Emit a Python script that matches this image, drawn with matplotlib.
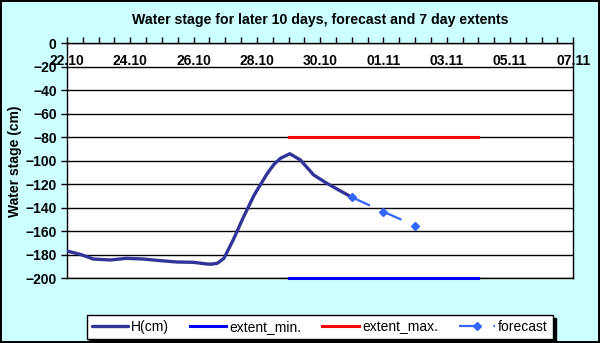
import matplotlib
matplotlib.use("Agg")
from matplotlib import pyplot as plt
import matplotlib.dates as mdates
import pandas as pd

plt.rcParams['font.family'] = ['Liberation Sans', 'DejaVu Sans']

# observed water stage
h_time = ["2011-10-22 00:00", "2011-10-22 10:00", "2011-10-22 20:00", "2011-10-23 09:00",
          "2011-10-23 21:00", "2011-10-24 10:00", "2011-10-24 23:00", "2011-10-25 11:00",
          "2011-10-26 00:00", "2011-10-26 10:00", "2011-10-26 13:00", "2011-10-26 18:00",
          "2011-10-26 23:00", "2011-10-27 06:00", "2011-10-27 14:00", "2011-10-27 22:00",
          "2011-10-28 08:00", "2011-10-28 13:00", "2011-10-28 18:00", "2011-10-29 01:00",
          "2011-10-29 09:00", "2011-10-29 19:00", "2011-10-30 05:00", "2011-10-30 15:00",
          "2011-10-31 00:00"]
h_cm = [-176.8, -179.6, -183.6, -184.4, -183.0, -183.6, -185.0, -186.1,
        -186.4, -187.8, -188.0, -187.2, -183.0, -167.4, -147.5, -129.0,
        -110.6, -103.0, -97.8, -94.0, -99.3, -112.0, -119.1, -125.4, -131.0]

# forecast
fc_time = ["2011-10-31", "2011-11-01", "2011-11-02"]
fc_cm = [-131.0, -143.3, -155.3]

# 7 day extents
ext_time = ["2011-10-29", "2011-11-04"]
ext_min = [-200, -200]
ext_max = [-80, -80]

x_start, x_end = "2011-10-22", "2011-11-07"

h_time = pd.to_datetime(h_time)
fc_time = pd.to_datetime(fc_time)
ext_time = pd.to_datetime(ext_time)

bg = '#CCFFFF'
fig = plt.figure(figsize=(6, 3.43), dpi=100, facecolor=bg, edgecolor='black', linewidth=1.5)
ax = fig.add_axes([0.1117, 0.1886, 0.8438, 0.6852])
ax.set_facecolor('white')

ax.plot(h_time, h_cm, color='#333399', lw=2.4, label='H(cm)', solid_capstyle='round',
        solid_joinstyle='round', zorder=4)
ax.plot(ext_time, ext_min, color='#0000FF', lw=2.2, label='extent_min.', zorder=3, clip_on=False)
ax.plot(ext_time, ext_max, color='#FF0000', lw=2.2, label='extent_max.', zorder=3)
ax.plot(fc_time, fc_cm, color='#3366FF', lw=1.6, dashes=(9, 6.5), marker='D', markersize=4,
        label='forecast', zorder=5)

ax.set_ylim(-200, 0)
ax.set_yticks(range(-200, 1, 20))
ax.yaxis.grid(True, color='black', lw=1)
ax.set_axisbelow(True)
ax.set_xlim(pd.Timestamp(x_start), pd.Timestamp(x_end))

ax.xaxis.set_major_locator(mdates.DayLocator(interval=2))
ax.xaxis.set_minor_locator(mdates.HourLocator(byhour=[0, 12]))
ax.xaxis.set_major_formatter(mdates.DateFormatter('%d.%m'))
ax.tick_params(axis='x', which='both', top=True, bottom=False, labeltop=True,
               labelbottom=False, direction='out', length=4, width=1, pad=-12)
ax.tick_params(axis='y', length=4, width=1, labelsize=10)
for lab in ax.get_xticklabels():
    lab.set_va('top')
    lab.set_fontsize(10)
    lab.set_fontweight('bold')
for lab in ax.get_yticklabels():
    lab.set_fontweight('bold')

for s in ax.spines.values():
    s.set_color('black')
    s.set_linewidth(1)

ax.set_ylabel('Water stage (cm)', fontsize=10, fontweight='bold', labelpad=2)
fig.text(0.533, 0.942, 'Water stage for later 10 days, forecast and 7 day extents',
         ha='center', va='center', fontsize=10.2, fontweight='bold')

leg = fig.legend(loc='center', bbox_to_anchor=(0.533, 0.047), ncol=4, fontsize=10,
                 frameon=True, fancybox=False, shadow={'color': 'black', 'alpha': 1},
                 edgecolor='black', handlelength=2.6, columnspacing=1.5,
                 handletextpad=0.25, borderpad=0.35, borderaxespad=0)
leg.get_frame().set_linewidth(1)

fig.savefig('out.png', dpi=100, facecolor=bg, edgecolor='black')
